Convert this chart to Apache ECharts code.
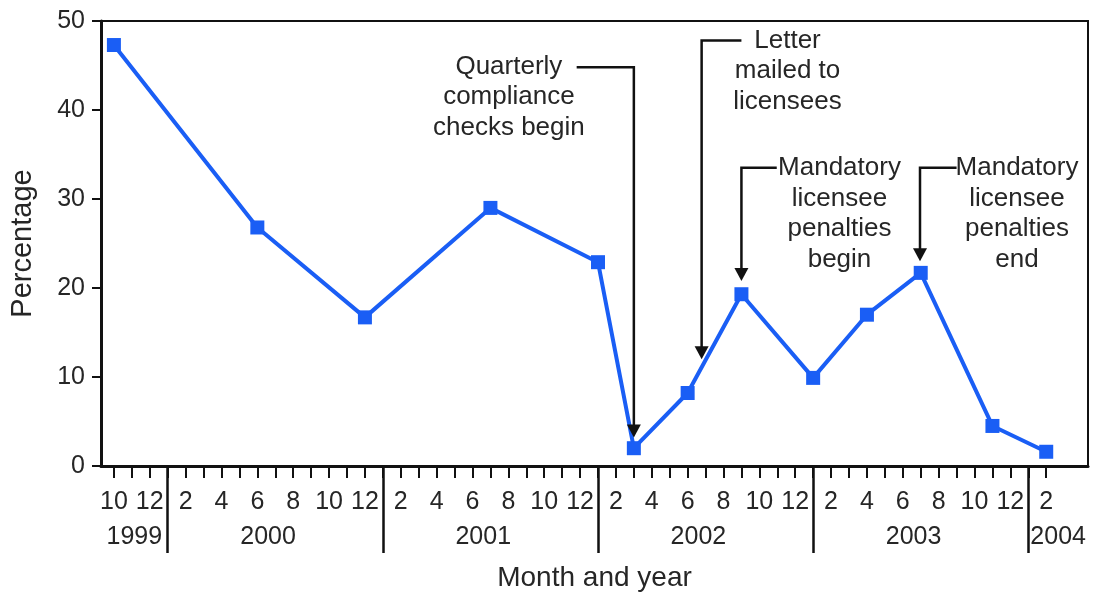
<!DOCTYPE html>
<html><head><meta charset="utf-8">
<script src="https://cdn.jsdelivr.net/npm/echarts@6/dist/echarts.min.js"></script>
<style>html,body{margin:0;padding:0;background:#fff}#c{width:1093px;height:595px}</style>
</head><body><div id="c"></div>
<script>
// ---- data ----
const pointMonths = ['1999-10','2000-06','2000-12','2001-07','2002-01','2002-03','2002-06','2002-09','2003-01','2003-04','2003-07','2003-11','2004-02'];
const pointValues = [47.3, 26.8, 16.7, 29.0, 22.9, 2.0, 8.2, 19.3, 9.9, 17.0, 21.7, 4.5, 1.6];
const years = [1999, 2000, 2001, 2002, 2003, 2004];
const yTickValues = [0, 10, 20, 30, 40, 50];
const annotationTexts = [
  ['Quarterly', 'compliance', 'checks begin'],
  ['Letter', 'mailed to', 'licensees'],
  ['Mandatory', 'licensee', 'penalties', 'begin'],
  ['Mandatory', 'licensee', 'penalties', 'end']
];
// arrow target: month index (months since Jan 1999) and percentage at arrow tip
const annotationMonth = [38, 41.78, 44, 53.96];
const annotationTip = [3.2, 12.0, 20.8, 23.0];
// ---- layout (data-space anchors for annotation elbows / text) ----
const annotationTop = [44.8, 47.8, 33.5, 33.5];
const annotationElbowX = [34.81, 44.0, 45.97, 56.0];
const annotationTextX = [31.03, 46.57, 49.47, 59.37];
const annotationTextY = [44.9, 47.8, 33.5, 33.5];

const xMin = 8.28, xMax = 63.33;
const monthIndex = s => { const [y, m] = s.split('-').map(Number); return (y - 1999) * 12 + (m - 1); };

const lineData = pointMonths.map((m, i) => [monthIndex(m), pointValues[i]]);
const firstMonth = monthIndex(pointMonths[0]);
const lastMonth = monthIndex(pointMonths[pointMonths.length - 1]);
const monthTicks = [];
for (let v = firstMonth; v <= lastMonth; v++) monthTicks.push(v);
const monthLabels = monthTicks.filter(v => ((v % 12) + 1) % 2 === 0 || v === firstMonth);
const yearBounds = years.slice(1).map(y => (y - 1999) * 12);
const yearLabelPos = years.map(y => {
  const a = Math.max((y - 1999) * 12, xMin), b = Math.min((y - 1998) * 12, xMax);
  const full = (b - a) >= 12;
  return (a + b) / 2 - (full ? 0.4 : 0);
});

const FONT = '"Liberation Sans", Arial, Helvetica, sans-serif';
const TXT = '#262626';
const LH = 30.5;

const chart = echarts.init(document.getElementById('c'), null, {renderer: 'canvas'});
chart.setOption({
  animation: false,
  backgroundColor: '#fff',
  grid: {left: 101, right: 5, top: 21, bottom: 129, show: true, borderColor: '#111', borderWidth: 2,
    backgroundColor: 'transparent', containLabel: false, outerBoundsMode: 'none'},
  xAxis: [
    {
      type: 'value', min: xMin, max: xMax, position: 'bottom',
      axisLine: {show: true, lineStyle: {color: '#111', width: 3}},
      axisTick: {show: true, customValues: monthTicks, length: 12, inside: false, lineStyle: {color: '#111', width: 2}},
      axisLabel: {show: true, customValues: monthLabels, margin: 24, fontSize: 25, fontFamily: FONT, color: TXT,
        formatter: v => String((Math.round(v) % 12) + 1)},
      splitLine: {show: false},
      name: 'Month and year', nameLocation: 'middle', nameGap: 98,
      nameTextStyle: {fontSize: 28, fontFamily: FONT, color: TXT}
    },
    {
      type: 'value', min: xMin, max: xMax, position: 'bottom',
      axisLine: {show: false},
      axisTick: {show: true, customValues: yearBounds, length: 87, inside: false, lineStyle: {color: '#111', width: 2.5}},
      axisLabel: {show: true, customValues: yearLabelPos, margin: 59, fontSize: 25, fontFamily: FONT, color: TXT,
        formatter: v => String(1999 + Math.floor(v / 12))},
      splitLine: {show: false}
    }
  ],
  yAxis: {
    type: 'value', min: 0, max: 50, interval: 10,
    axisLine: {show: true, lineStyle: {color: '#111', width: 3}},
    axisTick: {show: true, length: 9, inside: false, lineStyle: {color: '#111', width: 2}},
    axisLabel: {margin: 16, fontSize: 25, fontFamily: FONT, color: TXT, customValues: yTickValues},
    splitLine: {show: false},
    name: 'Percentage', nameLocation: 'middle', nameGap: 64, nameRotate: 90,
    nameTextStyle: {fontSize: 29, fontFamily: FONT, color: TXT}
  },
  series: [
    {
      type: 'line', data: lineData, xAxisIndex: 0,
      lineStyle: {color: '#1a5ef5', width: 4},
      itemStyle: {color: '#1a5ef5'},
      symbol: 'rect', symbolSize: 14, showAllSymbol: true, z: 3
    },
    {
      type: 'custom', xAxisIndex: 0, coordinateSystem: 'cartesian2d', clip: false, z: 5, silent: true,
      data: annotationMonth.map((m, i) => [m, annotationTip[i], annotationTop[i], annotationElbowX[i], annotationTextX[i], annotationTextY[i]]),
      renderItem: function (params, api) {
        const i = params.dataIndex;
        const pTip = api.coord([api.value(0), api.value(1)]);
        const pTop = api.coord([api.value(0), api.value(2)]);
        const pE = api.coord([api.value(3), api.value(2)]);
        const pT = api.coord([api.value(4), api.value(5)]);
        const ah = 13, aw = 7;
        return {
          type: 'group',
          children: [
            {type: 'polyline', shape: {points: [[pE[0], pTop[1]], [pTop[0], pTop[1]], [pTip[0], pTip[1] - ah + 2]]},
              style: {stroke: '#111', lineWidth: 2.5, fill: null}},
            {type: 'polygon', shape: {points: [[pTip[0] - aw, pTip[1] - ah], [pTip[0] + aw, pTip[1] - ah], [pTip[0], pTip[1]]]},
              style: {fill: '#111'}},
            {type: 'text', x: pT[0], y: pT[1] - LH / 2,
              style: {text: annotationTexts[i].join('\n'), align: 'center', verticalAlign: 'top',
                fontSize: 26, fontFamily: FONT, fill: TXT, lineHeight: LH}}
          ]
        };
      }
    }
  ]
});
</script>
</body></html>
